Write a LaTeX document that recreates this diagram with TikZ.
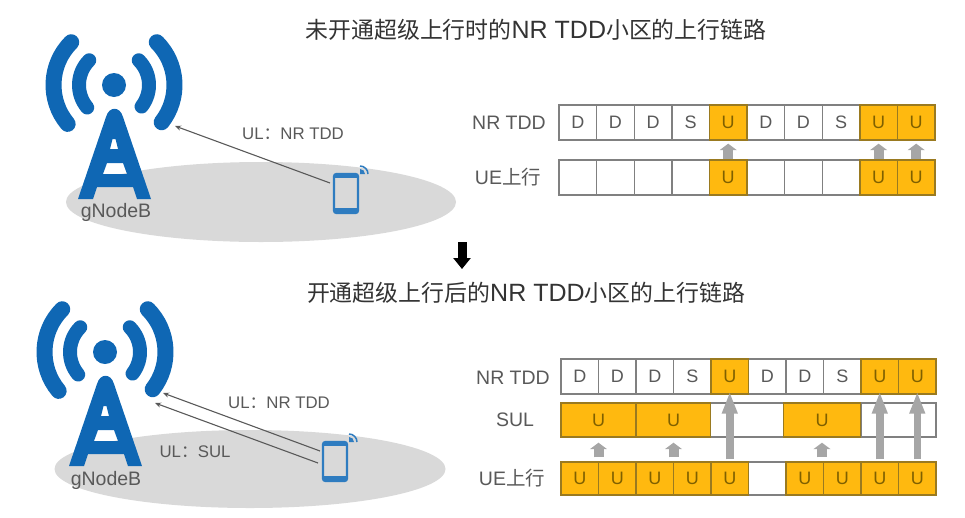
\documentclass[tikz,border=0pt]{standalone}
\usepackage{fontspec}
\setmainfont{Liberation Sans}
\newfontfamily\cjk{Noto Sans CJK SC}
\usetikzlibrary{arrows.meta}
\definecolor{towerblue}{HTML}{0F67B4}
\definecolor{phoneblue}{HTML}{2E7CC0}
\definecolor{ellgray}{HTML}{D9D9D9}
\definecolor{txtgray}{HTML}{595959}
\definecolor{titlegray}{HTML}{333333}
\definecolor{cellline}{HTML}{808080}
\definecolor{arrowgray}{HTML}{A6A6A6}
\definecolor{ulorange}{HTML}{FFB90F}
\definecolor{uledge}{HTML}{9A7A20}
\definecolor{utext}{HTML}{7F6000}
\tikzset{
  cellbase/.style={minimum height=#1,inner sep=0pt,font=\fontsize{18}{18}\selectfont,line width=1.4pt},
  whitecell/.style={draw=cellline,fill=white,text=txtgray},
  ucell/.style={draw=uledge,fill=ulorange,text=utext},
  lbl/.style={text=txtgray,inner sep=0pt,font=\fontsize{19.5}{20}\selectfont},
  linklbl/.style={text=txtgray,inner sep=0pt,font=\fontsize{16.8}{18}\selectfont},
  titletxt/.style={text=titlegray,inner sep=0pt,font=\fontsize{22.9}{24}\selectfont},
  thin link/.style={draw=txtgray,line width=1.1pt,-{Stealth[length=6pt,width=5pt]}},
  smallup/.style={draw=arrowgray,line width=10pt,-{Triangle[length=6.5pt,width=17pt]}},
  longup/.style={draw=arrowgray,line width=7.5pt,-{Triangle[length=22pt,width=14.5pt]}},
  bearc/.style={draw=towerblue,line cap=round,line width=16pt},
  phonebody/.style={draw=phoneblue,fill=ellgray,line width=2.3pt,rounded corners=2.5pt,minimum width=24pt,minimum height=39pt,inner sep=0pt},
}
\newcommand{\towerpic}[2]{%
  \begin{scope}[shift={(#1,#2)}]
    \fill[towerblue] (114,-85) circle (12);
    \draw[bearc] (114,-85) ++(135:60.5) arc (135:220:60.5);
    \draw[bearc] (114,-85) ++(45:60.5) arc (45:-38:60.5);
    \draw[bearc,line width=14pt] (114,-85) ++(135:35) arc (135:220:35);
    \draw[bearc,line width=14pt] (114,-85) ++(45:35) arc (45:-38:35);
    \fill[towerblue,even odd rule]
      (78,-199) -- (106,-117) .. controls (109,-106) and (120,-106) .. (123,-117)
      -- (151,-199) -- (137,-199) -- (133,-187) -- (97,-187) -- (93,-199) -- cycle
      (112.5,-139) -- (115.5,-139) -- (118,-149) -- (110,-149) -- cycle
      (107,-163) -- (123,-163) -- (127,-174) -- (103,-174) -- cycle;
  \end{scope}}
\newcommand{\phonedeco}[2]{%
  \begin{scope}[shift={(#1,#2)}]
    \fill[phoneblue] (334,-174) rectangle (358,-178);
    \fill[phoneblue] (334,-208) rectangle (358,-213);
    \fill[phoneblue] (360,-174) -- (360,-169) arc (90:0:5) -- cycle;
    \draw[phoneblue,line width=1.5pt] (360,-166) arc (90:0:8);
  \end{scope}}
\begin{document}
\begin{tikzpicture}[x=1pt,y=1pt]
\useasboundingbox (0,0) rectangle (965,-517);
% ground ellipses
\fill[ellgray] (261,-202) ellipse [x radius=195,y radius=40];
\fill[ellgray] (250,-469) ellipse [x radius=195.5,y radius=39];
% towers
\towerpic{0}{0}
\towerpic{-9}{-267}
\node[lbl] (gnb1) at (116,-212) {gNodeB};
\node[lbl] (gnb2) at (106,-480) {gNodeB};
% phones
\node[phonebody] (ph1) at (346,-193.5) {};
\phonedeco{0}{0}
\node[phonebody] (ph2) at (335,-461.5) {};
\phonedeco{-11}{-268}
% radio links
\coordinate (tip1) at (175,-126);
\coordinate (start1) at (330,-183);
\draw[thin link] (start1) -- (tip1);
\coordinate (tip2a) at (163,-393);
\coordinate (start2a) at (320,-451);
\draw[thin link] (start2a) -- (tip2a);
\coordinate (tip2b) at (155,-403);
\coordinate (start2b) at (318,-463);
\draw[thin link] (start2b) -- (tip2b);
\node[linklbl] (ul1) at (293,-134) {UL{\cjk ：}NR TDD};
\node[linklbl] (ul2) at (279,-403) {UL{\cjk ：}NR TDD};
\node[linklbl] (ul3) at (195,-452) {UL{\cjk ：}SUL};
% titles
\node[titletxt] (title1) at (536,-30) {{\cjk 未开通超级上行时的}{\fontsize{25}{24}\selectfont NR TDD}{\cjk 小区的上行链路}};
\node[titletxt] (title2) at (526,-293) {{\cjk 开通超级上行后的}{\fontsize{25}{24}\selectfont NR TDD}{\cjk 小区的上行链路}};
% transition arrow
\coordinate (ba) at (462,-242);
\coordinate (bb) at (462,-269);
\draw[black,line width=9pt,-{Triangle[length=11pt,width=17pt]}] (ba) -- (bb);
% row labels
\node[lbl] (la1) at (509,-123) {NR TDD};
\node[lbl] (la2) at (508,-177) {UE{\cjk 上行}};
\node[lbl] (la3) at (513,-378) {NR TDD};
\node[lbl] (la4) at (515,-420) {SUL};
\node[lbl] (la5) at (512,-478) {UE{\cjk 上行}};
% upper grid
\foreach \t [count=\i] in {D,D,D,S,X,D,D,S,X,X}{
  \if X\t\else
    \pgfmathsetmacro{\cx}{559+37.6*(\i-0.5)}
    \node[cellbase=35pt,minimum width=37.6pt,whitecell] (a\i) at (\cx,-122.5) {\t};
  \fi
}
\foreach \i in {5,9,10}{
  \pgfmathsetmacro{\cx}{559+37.6*(\i-0.5)}
  \node[cellbase=35pt,minimum width=37.6pt,ucell] (a\i) at (\cx,-122.5) {U};
}
\foreach \i in {1,2,3,4,6,7,8}{
  \pgfmathsetmacro{\cx}{559+37.6*(\i-0.5)}
  \node[cellbase=35pt,minimum width=37.6pt,whitecell] (b\i) at (\cx,-177.5) {};
}
\foreach \i in {5,9,10}{
  \pgfmathsetmacro{\cx}{559+37.6*(\i-0.5)}
  \node[cellbase=35pt,minimum width=37.6pt,ucell] (b\i) at (\cx,-177.5) {U};
}
\foreach \i in {5,9,10}{
  \draw[smallup,shorten >=3pt,shorten <=0pt] (b\i.north) -- (a\i.south);
}
% lower grid: NR TDD row
\foreach \t [count=\i] in {D,D,D,S,X,D,D,S,X,X}{
  \if X\t\else
    \pgfmathsetmacro{\cx}{561+37.5*(\i-0.5)}
    \node[cellbase=35pt,minimum width=37.5pt,whitecell] (c\i) at (\cx,-376.5) {\t};
  \fi
}
\foreach \i in {5,9,10}{
  \pgfmathsetmacro{\cx}{561+37.5*(\i-0.5)}
  \node[cellbase=35pt,minimum width=37.5pt,ucell] (c\i) at (\cx,-376.5) {U};
}
% SUL row
\node[cellbase=34pt,minimum width=74pt,whitecell] (s3) at (747,-420) {};
\node[cellbase=34pt,minimum width=75pt,whitecell] (s5) at (898.5,-420) {};
\node[cellbase=34pt,minimum width=75pt,ucell] (s1) at (598.5,-420) {U};
\node[cellbase=34pt,minimum width=74pt,ucell] (s2) at (673.5,-420) {U};
\node[cellbase=34pt,minimum width=77pt,ucell] (s4) at (822,-420) {U};
% UE row
\node[cellbase=33pt,minimum width=37.5pt,whitecell] (d6) at (767.25,-478.5) {};
\foreach \i in {1,2,3,4,5,7,8,9,10}{
  \pgfmathsetmacro{\cx}{561+37.5*(\i-0.5)}
  \node[cellbase=33pt,minimum width=37.5pt,ucell] (d\i) at (\cx,-478.5) {U};
}
% lower arrows
\draw[smallup,shorten >=5pt,shorten <=4pt] (d1.north -| s1.south) -- (s1.south);
\draw[smallup,shorten >=5pt,shorten <=4pt] (d3.north -| s2.south) -- (s2.south);
\draw[smallup,shorten >=5pt,shorten <=4pt] (d7.north -| s4.south) -- (s4.south);
\foreach \i in {5,9,10}{
  \draw[longup,shorten >=-3pt,shorten <=2pt] (d\i.north) -- (c\i.south);
}
\end{tikzpicture}
\end{document}
